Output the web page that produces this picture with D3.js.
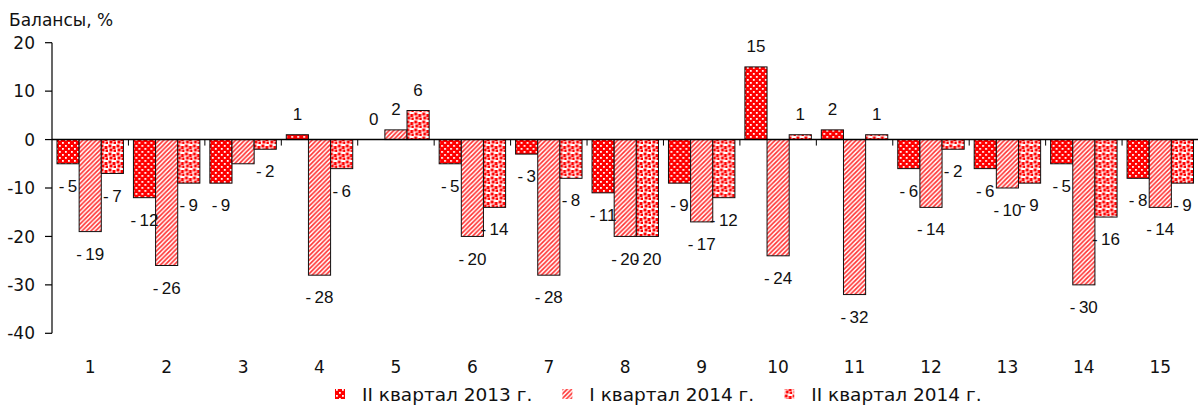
<!DOCTYPE html>
<html>
<head>
<meta charset="utf-8">
<script src="https://cdn.jsdelivr.net/npm/d3@7"></script>
<style>
  body { margin: 0; background: #fff; }
  svg { display: block; }
  .tick-label { font-family: "DejaVu Sans", sans-serif; font-size: 17px; fill: #111; }
  .legend-label { font-family: "DejaVu Sans", sans-serif; font-size: 18.5px; fill: #111; }
  .val { font-family: "Liberation Sans", Arial, sans-serif; font-size: 17px; fill: #111; }
</style>
</head>
<body>
<svg width="1198" height="408"></svg>
<script>
const categories = ['1','2','3','4','5','6','7','8','9','10','11','12','13','14','15'];
const seriesNames = ['II квартал 2013 г.', 'I квартал 2014 г.', 'II квартал 2014 г.'];
const q2_2013 = [-5, -12, -9, 1, 0, -5, -3, -11, -9, 15, 2, -6, -6, -5, -8];
const q1_2014 = [-19, -26, -5, -28, 2, -20, -28, -20, -17, -24, -32, -14, -10, -30, -14];
const q2_2014 = [-7, -9, -2, -6, 6, -14, -8, -20, -12, 1, 1, -2, -9, -16, -9];
const yTicks = [20, 10, 0, -10, -20, -30, -40];
// labels not shown in the original (category, series)
const hiddenLabels = [['3', 1]];

const seriesVals = [q2_2013, q1_2014, q2_2014];
const fills = ['url(#pDots)', 'url(#pStripes)', 'url(#pSquares)'];

const svg = d3.select('svg'),
      width = +svg.attr('width');

const margin = {left: 52, right: 0};

// patterns
const defs = svg.append('defs');
let p1 = defs.append('pattern').attr('id', 'pDots').attr('patternUnits', 'userSpaceOnUse')
    .attr('width', 6).attr('height', 6);
p1.append('rect').attr('width', 6).attr('height', 6).attr('fill', '#ff0000');
p1.append('rect').attr('x', 1).attr('y', 1).attr('width', 1.8).attr('height', 1.8).attr('fill', '#fff');
p1.append('rect').attr('x', 4).attr('y', 4).attr('width', 1.8).attr('height', 1.8).attr('fill', '#fff');

let p2 = defs.append('pattern').attr('id', 'pStripes').attr('patternUnits', 'userSpaceOnUse')
    .attr('width', 4.5).attr('height', 4.5);
p2.append('rect').attr('width', 4.5).attr('height', 4.5).attr('fill', '#fff');
p2.append('path').attr('d', 'M-1,1 L1,-1 M0,4.5 L4.5,0 M3.5,5.5 L5.5,3.5')
  .attr('stroke', '#ff3030').attr('stroke-width', 1.6);

let p3 = defs.append('pattern').attr('id', 'pSquares').attr('patternUnits', 'userSpaceOnUse')
    .attr('width', 8).attr('height', 8);
p3.append('rect').attr('width', 8).attr('height', 8).attr('fill', '#fff');
[[0.5, 0.5], [4.5, 2], [1.5, 4.5], [5.5, 5.5]].forEach(p => {
  p3.append('rect').attr('x', p[0]).attr('y', p[1]).attr('width', 3).attr('height', 3).attr('fill', '#ff0000');
});

const x0 = d3.scaleBand()
    .domain(categories)
    .range([margin.left, width + 0.5]);

const x1 = d3.scaleBand()
    .domain(d3.range(seriesVals.length))
    .range([5, x0.bandwidth() - 5]);

const y = d3.scaleLinear()
    .domain([-40, 20])
    .range([333.3, 42.7]);

// y axis
let gY = svg.append('g');
gY.append('line')
  .attr('x1', margin.left).attr('x2', margin.left)
  .attr('y1', y(20)).attr('y2', y(-40))
  .attr('stroke', '#000').attr('stroke-width', 1.2);
gY.selectAll('.yt').data(yTicks).enter().append('line')
  .attr('x1', margin.left - 7).attr('x2', margin.left)
  .attr('y1', d => y(d)).attr('y2', d => y(d))
  .attr('stroke', '#000').attr('stroke-width', 1.2);
gY.selectAll('.ytl').data(yTicks).enter().append('text')
  .attr('class', 'tick-label')
  .attr('x', 35).attr('y', d => y(d))
  .attr('dy', '0.36em')
  .attr('text-anchor', 'end')
  .text(d => d);

svg.append('text')
  .attr('class', 'tick-label')
  .attr('x', 9).attr('y', 26)
  .text('Балансы, %');

// bars
let groups = svg.selectAll('.grp')
    .data(categories)
    .enter().append('g')
    .attr('transform', d => `translate(${x0(d)},0)`);

let bars = groups.selectAll('rect')
    .data((c, i) => seriesVals.map((s, k) => ({cat: c, k: k, v: s[i]})))
    .enter().append('rect')
    .attr('x', d => x1(d.k))
    .attr('width', x1.bandwidth())
    .attr('y', d => y(Math.max(0, d.v)))
    .attr('height', d => Math.abs(y(d.v) - y(0)))
    .attr('fill', d => fills[d.k])
    .attr('stroke', d => d.v === 0 ? 'none' : '#111')
    .attr('stroke-width', 1);

// zero line
svg.append('line')
  .attr('x1', margin.left).attr('x2', width)
  .attr('y1', y(0)).attr('y2', y(0))
  .attr('stroke', '#000').attr('stroke-width', 1.5);

// category separator ticks
svg.selectAll('.xt').data(categories.slice(1)).enter().append('line')
  .attr('x1', d => x0(d)).attr('x2', d => x0(d))
  .attr('y1', y(0)).attr('y2', y(0) + 6)
  .attr('stroke', '#000').attr('stroke-width', 1);

// category labels
svg.selectAll('.xl').data(categories).enter().append('text')
  .attr('class', 'tick-label')
  .attr('x', d => x0(d) + x0.bandwidth() / 2)
  .attr('y', 367)
  .attr('dy', '0.36em')
  .attr('text-anchor', 'middle')
  .text(d => d);

// value labels
const isHidden = d => hiddenLabels.some(h => h[0] === d.cat && h[1] === d.k);
groups.selectAll('.val')
  .data((c, i) => seriesVals.map((s, k) => ({cat: c, k: k, v: s[i]})).filter(d => !isHidden(d)))
  .enter().append('text')
  .attr('class', 'val')
  .attr('x', d => x1(d.k) + x1.bandwidth() / 2)
  .attr('y', d => d.v < 0 ? y(d.v) + 22 : y(d.v) - 21)
  .attr('dy', '0.36em')
  .attr('text-anchor', 'middle')
  .text(d => d.v < 0 ? '-\u2009' + Math.abs(d.v) : d.v);

// legend
let legend = svg.append('g').attr('transform', 'translate(335,394)');
let lx = 0;
seriesNames.forEach((name, k) => {
  let item = legend.append('g').attr('transform', `translate(${lx},0)`);
  item.append('rect')
    .attr('x', 0).attr('y', -5)
    .attr('width', 10).attr('height', 10)
    .attr('fill', fills[k]);
  let t = item.append('text')
    .attr('class', 'legend-label')
    .attr('x', 27).attr('y', 0)
    .attr('dy', '0.36em')
    .text(name);
  lx += 27 + t.node().getComputedTextLength() + 30;
});
</script>
</body>
</html>
